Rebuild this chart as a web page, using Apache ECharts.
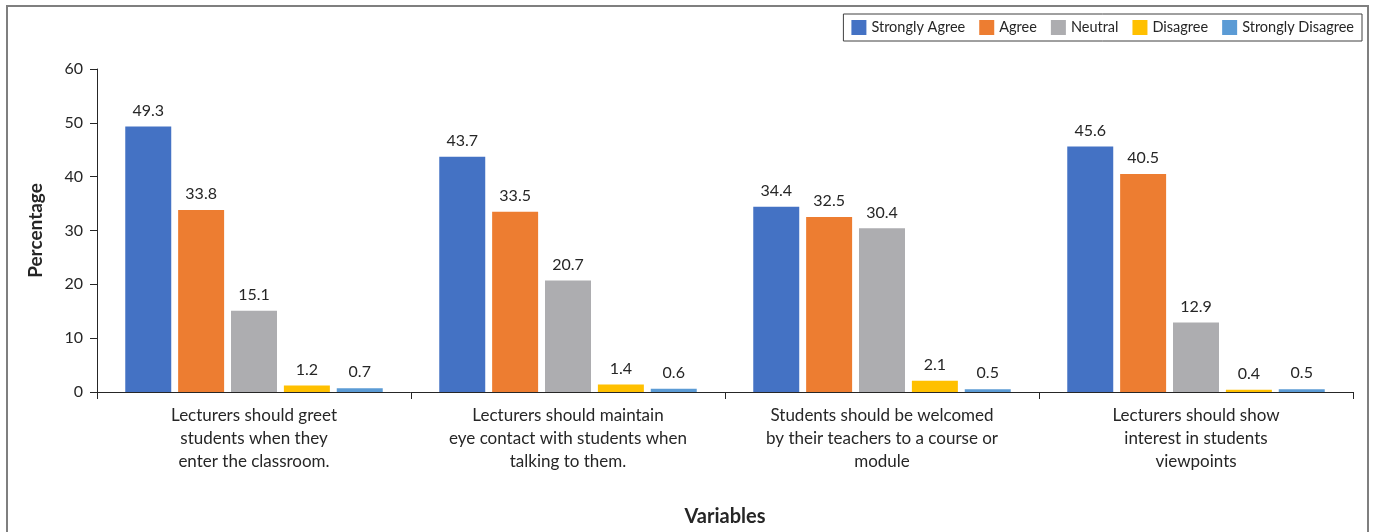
<!DOCTYPE html>
<html>
<head>
<meta charset="utf-8">
<script src="https://cdn.jsdelivr.net/npm/echarts@6/dist/echarts.min.js"></script>
<style>
  html, body { margin: 0; padding: 0; background: #fff; }
  #chart { width: 1373px; height: 532px; }
</style>
</head>
<body>
<div id="chart"></div>
<script>
// Survey statements shown on the x axis
const categories = [
  'Lecturers should greet\nstudents when they\nenter the classroom.',
  'Lecturers should maintain\neye contact with students when\ntalking to them.',
  'Students should be welcomed\nby their teachers to a course or\nmodule',
  'Lecturers should show\ninterest in students\nviewpoints'
];

const seriesNames = ['Strongly Agree', 'Agree', 'Neutral', 'Disagree', 'Strongly Disagree'];

// Percentage of respondents per response option
const stronglyAgree = [49.3, 43.7, 34.4, 45.6];
const agree = [33.8, 33.5, 32.5, 40.5];
const neutral = [15.1, 20.7, 30.4, 12.9];
const disagree = [1.2, 1.4, 2.1, 0.4];
const stronglyDisagree = [0.7, 0.6, 0.5, 0.5];

const yTicks = [0, 10, 20, 30, 40, 50, 60];

const colors = ['#4472C4', '#ED7D31', '#ADADB0', '#FFC000', '#5B9BD5'];
const values = [stronglyAgree, agree, neutral, disagree, stronglyDisagree];
const FONT = 'Lato, "Open Sans", sans-serif';

const chart = echarts.init(document.getElementById('chart'));

chart.setOption({
  animation: false,
  color: colors,
  textStyle: { fontFamily: FONT },
  graphic: [{
    type: 'rect',
    shape: { x: 7, y: 6, width: 1361, height: 540 },
    style: { fill: 'none', stroke: '#7f7f7f', lineWidth: 2 },
    silent: true
  }],
  legend: {
    top: 14,
    right: 11,
    itemWidth: 15,
    itemHeight: 15,
    itemGap: 14,
    padding: [6, 8, 6, 8],
    borderColor: '#404040',
    borderWidth: 1,
    icon: 'rect',
    textStyle: { fontSize: 14.5, color: '#262626', fontFamily: FONT },
    data: seriesNames
  },
  grid: { left: 97, right: 20, top: 69, bottom: 140, containLabel: false },
  xAxis: {
    type: 'category',
    data: categories,
    name: 'Variables',
    nameLocation: 'middle',
    nameGap: 115,
    nameTextStyle: { fontSize: 20, fontWeight: 'bold', color: '#262626', fontFamily: FONT },
    axisLine: { lineStyle: { color: '#262626', width: 1 } },
    axisTick: { show: true, length: 7, inside: false, alignWithLabel: false, lineStyle: { color: '#262626' } },
    axisLabel: { fontSize: 17, color: '#262626', lineHeight: 23, margin: 12, interval: 0, fontFamily: FONT }
  },
  yAxis: {
    type: 'value',
    min: 0,
    max: 60,
    interval: 10,
    name: 'Percentage',
    nameLocation: 'middle',
    nameGap: 52,
    nameTextStyle: { fontSize: 19, fontWeight: 'bold', color: '#262626', fontFamily: FONT },
    axisLine: { show: true, lineStyle: { color: '#262626', width: 1 } },
    axisTick: { show: true, length: 7, lineStyle: { color: '#262626' } },
    splitLine: { show: false },
    axisLabel: {
      fontSize: 16, color: '#262626', margin: 14, fontFamily: FONT,
      formatter: v => yTicks.includes(v) ? String(v) : ''
    }
  },
  series: seriesNames.map((name, i) => ({
    name,
    type: 'bar',
    data: values[i],
    barGap: '15%',
    barCategoryGap: '18%',
    label: {
      show: true,
      position: 'top',
      distance: 8,
      fontSize: 16,
      color: '#262626',
      fontFamily: FONT,
      formatter: p => p.value.toFixed(1)
    }
  }))
});
</script>
</body>
</html>
